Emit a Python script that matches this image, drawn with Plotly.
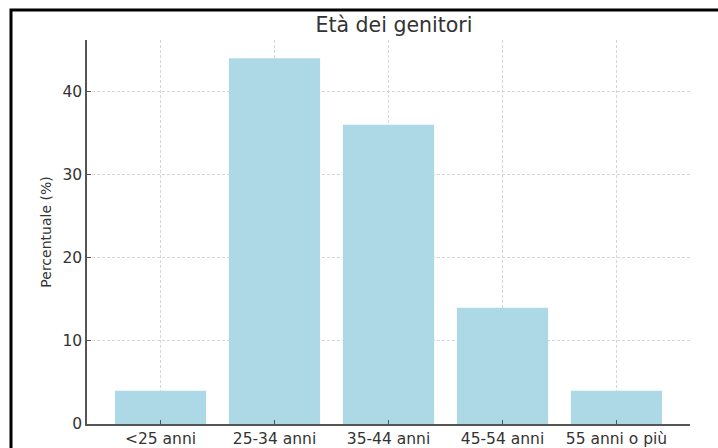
import plotly.graph_objects as go

categories = ["<25 anni", "25-34 anni", "35-44 anni", "45-54 anni", "55 anni o più"]
percentages = [4, 44, 36, 14, 4]
y_ticks = [0, 10, 20, 30, 40]

title_text = "Età dei genitori"
y_label = "Percentuale (%)"

W, H = 718, 448
ml, mr, mt, mb = 87, 28, 40, 24
pw, ph = W - ml - mr, H - mt - mb

fig = go.Figure(
    go.Bar(
        x=list(range(len(categories))),
        y=percentages,
        width=0.8,
        marker=dict(color="#ADD8E6", line=dict(width=0)),
    )
)

axis_color = "#555555"
text_color = "#333333"
grid_color = "#d6d6d6"

fig.update_layout(
    width=W,
    height=H,
    margin=dict(l=ml, r=mr, t=mt, b=mb, pad=0, autoexpand=False),
    paper_bgcolor="white",
    plot_bgcolor="white",
    font=dict(family="DejaVu Sans", size=15, color=text_color),
    showlegend=False,
    title=dict(
        text=title_text,
        x=394 / W,
        xref="container",
        xanchor="center",
        y=1 - 25 / H,
        yref="container",
        yanchor="middle",
        font=dict(size=20.5, color=text_color),
    ),
    shapes=[
        dict(
            type="rect",
            xref="paper",
            yref="paper",
            x0=(11 - ml) / pw,
            x1=1.3,
            y0=-0.3,
            y1=1 + (mt - 10) / ph,
            line=dict(color="black", width=3),
            fillcolor="rgba(0,0,0,0)",
            layer="below",
        )
    ],
)

common = dict(
    automargin=False,
    ticks="inside",
    ticklen=4,
    tickcolor=axis_color,
    tickwidth=1,
    showline=True,
    linecolor=axis_color,
    linewidth=1.5,
    showgrid=True,
    gridcolor=grid_color,
    griddash="3px,2px",
    gridwidth=0.8,
    zeroline=False,
    layer="above traces",
    tickfont=dict(size=15.5, color=text_color),
)

fig.update_xaxes(
    range=[-0.645, 4.645],
    tickmode="array",
    tickvals=list(range(len(categories))),
    ticktext=categories,
    **common,
)

fig.update_yaxes(
    range=[0, 46.2],
    tickmode="array",
    tickvals=y_ticks,
    title=dict(text=y_label, font=dict(size=14, color=text_color), standoff=8),
    **common,
)

fig.write_html(
    "out.html",
    config={"displayModeBar": False},
    post_script="document.body.style.margin='0';",
)
